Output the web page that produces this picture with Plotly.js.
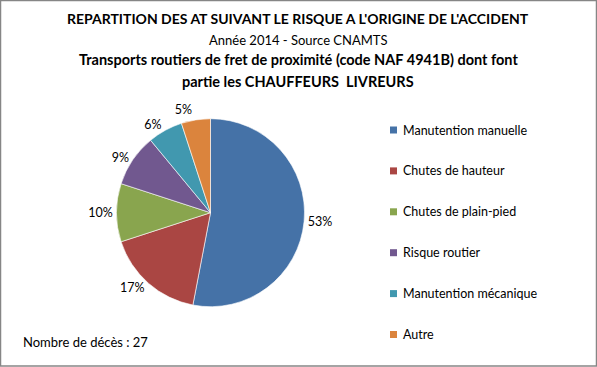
<!DOCTYPE html>
<html><head><meta charset="utf-8">
<script src="https://cdn.plot.ly/plotly-3.0.1.min.js"></script>
<style>body{margin:0;background:#fff}#chart{width:597px;height:367px}path.textline{display:none !important}</style>
</head><body><div id="chart"></div>
<script>
const categories = ["Manutention manuelle","Chutes de hauteur","Chutes de plain-pied","Risque routier","Manutention mécanique","Autre"];
const values = [53,17,10,9,6,5];
const colors = ["#4572A7","#AA4643","#89A54E","#71588F","#4198AF","#DB843D"];
const titleLines = [
  {text:"<b>REPARTITION DES AT SUIVANT LE RISQUE A L'ORIGINE DE L'ACCIDENT</b>", y:19, size:14},
  {text:"Année 2014 - Source CNAMTS", y:40, size:13},
  {text:"<b>Transports routiers de fret de proximité (code NAF 4941B) dont font</b>", y:60, size:14.5},
  {text:"<b>partie les CHAUFFEURS  LIVREURS</b>", y:81, size:14.5}
];
const note = "Nombre de décès : 27";

const W=597,H=367;
const px=x=>x/W, py=y=>1-y/H;
const FONT="Lato, 'Open Sans', sans-serif";

const annotations=[];
const shapes=[];
titleLines.forEach(l=>annotations.push({xref:'paper',yref:'paper',x:px(298),y:py(l.y),text:l.text,showarrow:false,xanchor:'center',yanchor:'middle',font:{family:FONT,size:l.size,color:'#000'}}));
annotations.push({xref:'paper',yref:'paper',x:px(21),y:py(342),text:note,showarrow:false,xanchor:'left',yanchor:'middle',font:{family:FONT,size:13,color:'#000'}});
categories.forEach((c,i)=>{
  const cy=130+40.9*i;
  shapes.push({type:'rect',xref:'paper',yref:'paper',x0:px(390),x1:px(397),y0:py(cy+3.5),y1:py(cy-3.5),fillcolor:colors[i],line:{width:0}});
  annotations.push({xref:'paper',yref:'paper',x:px(401),y:py(cy),text:c,showarrow:false,xanchor:'left',yanchor:'middle',font:{family:FONT,size:12.5,color:'#000'}});
});
shapes.push({type:'rect',xref:'paper',yref:'paper',x0:px(0.5),x1:px(596.5),y0:py(0.5),y1:py(366),line:{color:'#868686',width:1.5},fillcolor:'rgba(0,0,0,0)'});

const cx=210.5, cyc=212.7, r=94;
const data=[{
  type:'pie', labels:categories, values:values, sort:false, direction:'clockwise', rotation:0,
  marker:{colors:colors,line:{color:'#ffffff',width:0.6}},
  textinfo:'percent', textposition:'outside', texttemplate:'%{value}%',
  textfont:{family:FONT,size:12.5,color:'#000'},
  domain:{x:[px(cx-r),px(cx+r)],y:[py(cyc+r),py(cyc-r)]},
  showlegend:false, hoverinfo:'label+percent'
}];
const layout={width:W,height:H,margin:{l:0,r:0,t:0,b:0},paper_bgcolor:'#fff',showlegend:false,annotations:annotations,shapes:shapes};
Plotly.newPlot('chart',data,layout,{displayModeBar:false,staticPlot:true});
</script></body></html>
